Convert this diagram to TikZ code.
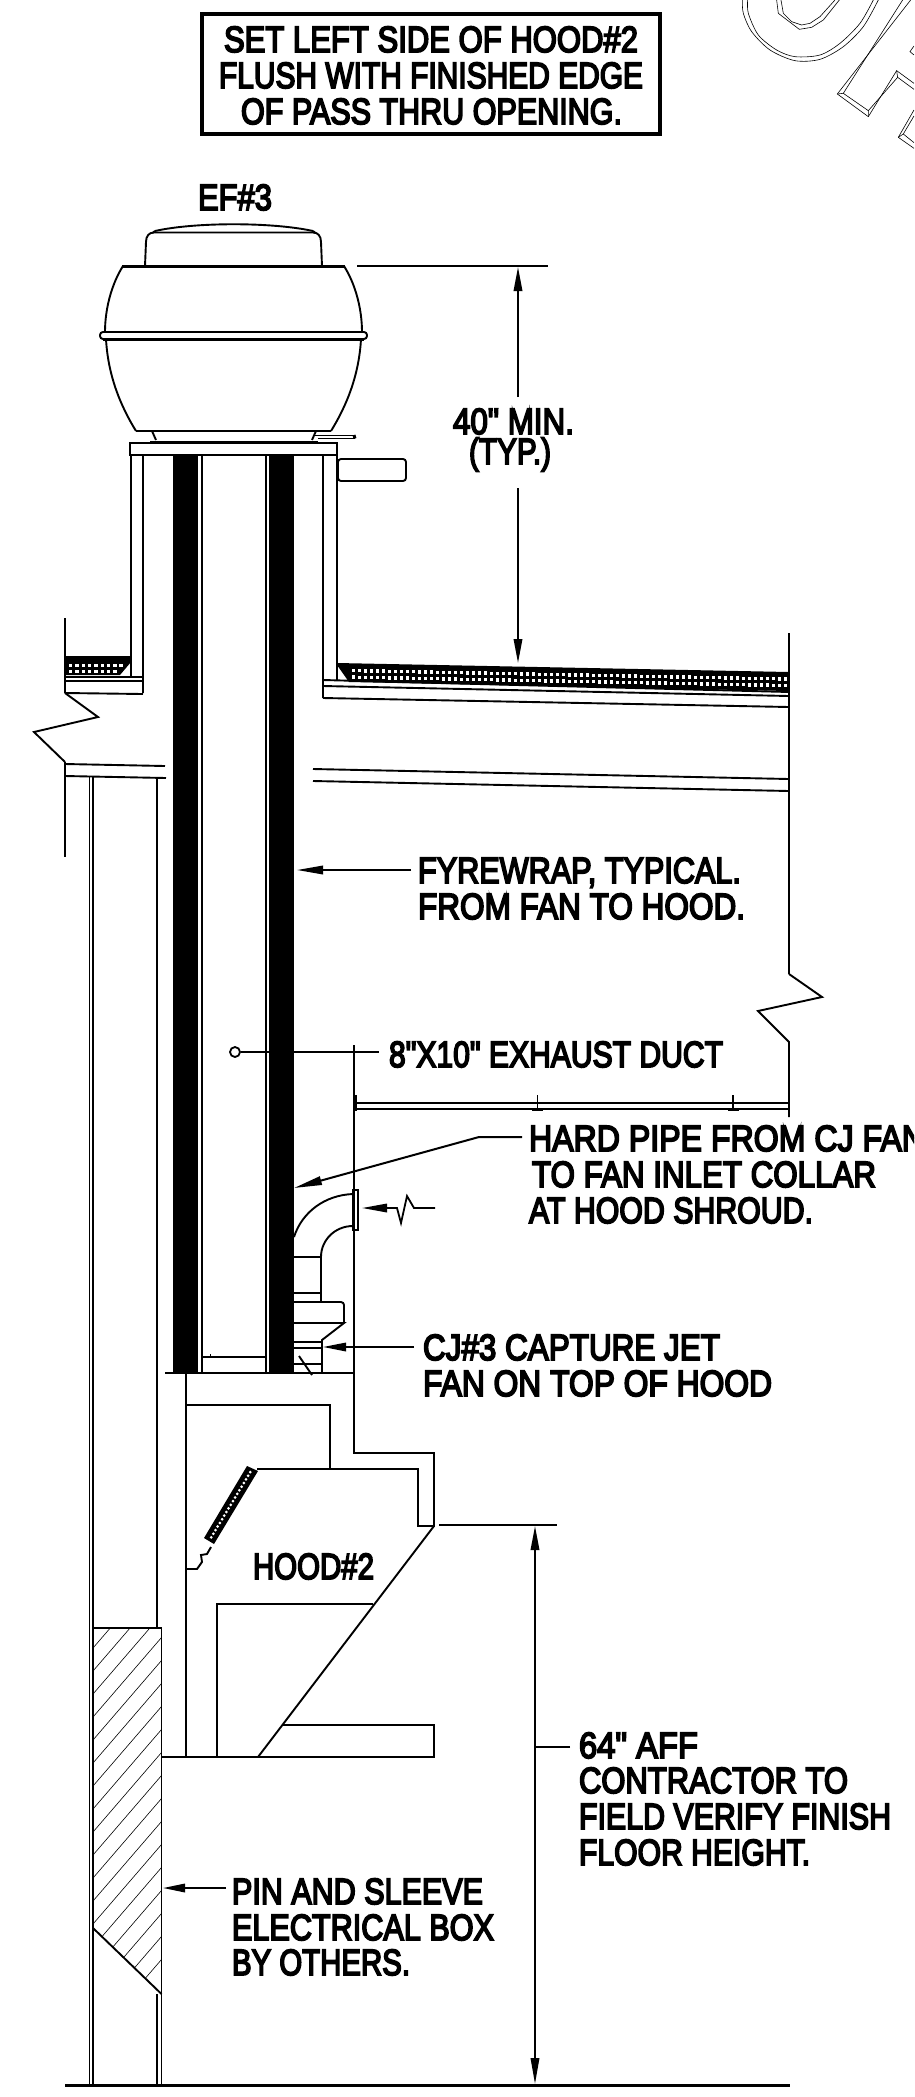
\documentclass[tikz,border=0pt]{standalone}
\usepackage{fontspec}
\usepackage{graphicx}
\setmainfont[FakeBold=5,Ligatures=TeXOff]{Liberation Sans}
\usetikzlibrary{arrows.meta,calc}
\tikzset{
  base/.style={line width=1.9pt,line join=miter,black},
  heavy/.style={line width=3pt,black},
  fine/.style={line width=0.9pt,black},
  wm/.style={line width=0.6pt,black},
  hatchline/.style={line width=0.6pt,black},
  lbl/.style={inner sep=0pt,outer sep=0pt,anchor=base west,font=\fontsize{36.5}{36.5}\selectfont},
  lead/.style={line width=1.8pt,black},
  tip/.style={-{Triangle[length=#1,width=8.5pt]}},
  tip/.default=24pt,
}
\newcommand{\lab}[5]{\node[lbl] (#1) at (#2,#3) {\resizebox{#4pt}{\height}{#5}};}
\begin{document}
\begin{tikzpicture}[x=1pt,y=-1pt]
\useasboundingbox (0,0) rectangle (914,2097);
\clip (0,0) rectangle (914,2097);
% watermark
\begin{scope}[shift={(680,0)},x=0.3333pt,y=-0.3333pt,wm]
\draw plot[smooth] coordinates {(187,0)(190,40)(215,95)(270,150)(345,182)(420,178)(490,140)(550,80)(595,0)};
\draw plot[smooth] coordinates {(203,0)(205,40)(235,105)(290,150)(345,170)(420,165)(480,130)(540,70)(580,0)};
\draw (290,0)--(295,40)--(358,88)--(395,82)--(430,60)--(478,0);
\draw (303,0)--(310,40)--(335,65)--(365,75)--(390,70)--(420,50)--(465,0);
\draw (692,0)--(472,282)--(565,350)--(650,212)--(702,250);
\draw (668,0)--(490,280)--(565,332)--(653,232)--(702,268);
\draw (472,282)--(490,280) (565,350)--(565,332) (650,212)--(653,232);
\draw (702,330)--(655,412)--(702,445);
\draw (702,348)--(670,402)--(702,428) (655,412)--(670,402);
\draw (702,138)--(690,155)--(702,165);
\end{scope}
% note box
\draw[heavy,line width=3.6pt] (202,14) rectangle (660,134);
\lab{noteA}{224}{52}{414}{SET LEFT SIDE OF HOOD\#2}
\lab{noteB}{219}{88}{424}{FLUSH WITH FINISHED EDGE}
\lab{noteC}{241}{124}{381}{OF PASS THRU OPENING.}
\lab{ef}{198}{210}{74}{EF\#3}
% fan
\draw[base] (155,231) .. controls (195,222) and (272,222) .. (313,231);
\draw[base] (155,231)--(153,232.5) (313,231)--(315,232.5);
\draw[base] (145,266) -- (146,242) .. controls (146,236) and (149,232.5) .. (154,232.5) -- (313,232.5) .. controls (318,232.5) and (321,236) .. (321,242) -- (322,266);
\draw[heavy] (122,266)--(345,266);
\draw[base] (123,266) .. controls (111,285) and (105,310) .. (105,332);
\draw[base] (344,266) .. controls (356,285) and (362,310) .. (362,332);
\draw[base,rounded corners=3pt] (100,332) rectangle (367,339);
\draw[heavy] (103,339)--(364,339);
\draw[base] (106,339) .. controls (108,375) and (120,405) .. (136,431);
\draw[base] (361,339) .. controls (359,375) and (347,405) .. (331,431);
\draw[base] (136,431)--(331,431);
\draw[base] (152,431)--(156,440) (316,431)--(312,440);
\draw[base] (150,442)--(318,442);
\draw[fine] (314,435)--(355,435) (318,438)--(355,438);
\draw[heavy] (354,435)--(355,438.5);
% curb
\draw[base] (130,443) rectangle (337,455);
\draw[base] (131,455)--(131,677) (143,455)--(143,693) (323,455)--(323,698) (337,455)--(337,680);
\draw[base,rounded corners=3pt] (338,459) rectangle (406,481);
% duct
\fill[black] (173,455) rectangle (198,1373);
\fill[black] (269,455) rectangle (294,1373);
\draw[base] (202,455)--(202,1373) (266,455)--(266,1373);
% left roof
\draw[base,line width=1.4pt] (65,618)--(65,693);
\fill[black] (65,656)--(131,656)--(131,662)--(120,675)--(65,675)--cycle;
\foreach \xx in {69,75.3,...,125} {\fill[white] (\xx,663.5) rectangle +(3.4,3.4);}
\foreach \xx in {69,75.3,...,118} {\fill[white] (\xx,670) rectangle +(3.4,3.4);}
\draw[base] (65,677)--(143,677);
\draw[base] (65,681)--(143,681);
\draw[base] (65,693)--(143,694);
\draw[base] (65,693)--(98,717)--(34,732)--(65,762);
\draw[base] (65,764)--(165,766);
\draw[base] (65,776)--(166,778);
\draw[base] (65,762)--(65,857);
% right roof
\draw[base,line width=1.4pt] (789,633)--(789,974);
\fill[black] (337,663)--(789,672)--(789,691)--(349,682)--(337,665)--cycle;
\foreach \xx in {352,358,...,786} {
  \pgfmathsetmacro{\yA}{668.6+(\xx-337)*0.0195}
  \pgfmathsetmacro{\yB}{675.1+(\xx-337)*0.0195}
  \fill[white] (\xx,\yA) rectangle +(3.4,3.4);
  \fill[white] (\xx,\yB) rectangle +(3.4,3.4);
}
\draw[base] (323,680)--(789,692);
\draw[base] (323,686)--(789,696);
\draw[base] (323,698)--(789,707);
\draw[base] (313,769)--(789,779);
\draw[base] (313,781)--(789,791);
% right wall + zigzag
\draw[base] (789,974)--(822,997)--(758,1011)--(789,1042)--(789,1117);
% ceiling
\draw[base] (355,1103)--(789,1103);
\draw[base] (355,1109)--(789,1109);
\draw[heavy] (355.5,1095)--(355.5,1111);
\draw[base] (537.5,1095)--(537.5,1108) (733,1095)--(733,1108);
\draw[heavy] (532,1109)--(543,1109) (728,1109)--(739,1109);
% wall lines lower
\draw[base] (89.5,777)--(89.5,2085) (93,777)--(93,2085);
\draw[base] (157,777)--(157,1628) (157,1994)--(157,2085);
\draw[base] (161.5,1628)--(161.5,2085);
% hatched block
\begin{scope}
\clip (93,1628)--(161.5,1628)--(161.5,1994)--(93,1928)--cycle;
\foreach \c in {1648,1671,...,2060} {\draw[hatchline] (93,\c)--(161.5,\c-79.5);}
\end{scope}
\draw[base] (93,1628)--(161.5,1628);
\draw[base] (93,1928)--(161.5,1994);
\draw[heavy] (65,2085)--(790,2085);
% hood
\draw[base] (165,1373)--(354,1373);
\draw[base] (186,1373)--(186,1757);
\draw[base] (186,1405)--(330,1405)--(330,1469);
\draw[base] (257,1469)--(418,1469)--(418,1526)--(434,1526)--(434,1453)--(354,1453)--(354,1045);
\draw[base] (434,1526)--(258,1757);
\draw[base] (217,1757)--(217,1604)--(373,1604);
\draw[base] (161.5,1757)--(434,1757)--(434,1725)--(281.5,1725);
\fill[black] (247,1466)--(258,1471)--(214,1544)--(204,1538)--cycle;
\foreach \t in {0.05,0.1,...,0.96} {
  \fill[white] ($(252.5,1468.5)!\t!(209,1541)$) circle (1.5pt);
}
\draw[base] (211,1547)--(207,1554)--(201,1555)--(202,1562)--(197,1569)--(186,1569);
\lab{hood}{253}{1579}{121}{HOOD\#2}
% elbow and CJ fan
\draw[base] (353,1194) .. controls (325,1195) and (302,1212) .. (294,1237);
\draw[base] (353,1226) .. controls (335,1226) and (321,1240) .. (321,1257);
\draw[base] (353,1190) rectangle (358,1230);
\draw[base] (294,1257)--(321,1257)--(321,1302);
\draw[base] (294,1293)--(321,1293);
\draw[base,rounded corners=3pt] (294,1302)--(344,1302)--(344,1323);
\draw[base] (294,1323)--(344,1323)--(322,1340)--(322,1373);
\draw[base] (294,1342)--(322,1342);
\draw[base] (294,1348)--(322,1348);
\draw[base] (294,1364)--(322,1364);
\draw[base] (299,1356)--(312,1375);
\draw[base] (202,1357)--(266,1357);
\draw[fine] (210,1354)--(210,1357);
% labels
\lab{dimA}{453}{434}{121}{40" MIN.}
\lab{dimB}{469}{464}{82}{(TYP.)}
\lab{fyreA}{418}{883}{323}{FYREWRAP, TYPICAL.}
\lab{fyreB}{418}{919}{327}{FROM FAN TO HOOD.}
\lab{duct}{389}{1067}{334}{8"X10" EXHAUST DUCT}
\lab{pipeA}{529}{1151}{396}{HARD PIPE FROM CJ FAN}
\lab{pipeB}{532}{1187}{344}{TO FAN INLET COLLAR}
\lab{pipeC}{529}{1223}{284}{AT HOOD SHROUD.}
\lab{cjA}{423}{1360}{297}{CJ\#3 CAPTURE JET}
\lab{cjB}{423}{1396}{349}{FAN ON TOP OF HOOD}
\lab{affA}{579}{1758}{119}{64" AFF}
\lab{affB}{579}{1793}{269}{CONTRACTOR TO}
\lab{affC}{579}{1829}{312}{FIELD VERIFY FINISH}
\lab{affD}{579}{1865}{231}{FLOOR HEIGHT.}
\lab{pinA}{232}{1904}{251}{PIN AND SLEEVE}
\lab{pinB}{232}{1940}{262}{ELECTRICAL BOX}
\lab{pinC}{232}{1975}{178}{BY OTHERS.}
% named points of connectors
\coordinate (ext40a) at (357,266);
\coordinate (ext40b) at (548,266);
\coordinate (d40top) at (518,267);
\coordinate (d40bot) at (518,663);
\coordinate (d40gapA) at (518,397);
\coordinate (d40gapB) at (518,488);
\coordinate (fyreTip) at (297,870);
\coordinate (pipeTip) at (294,1188);
\coordinate (pipeKnee) at (479,1137);
\coordinate (cjTip) at (323,1347);
\coordinate (ductDot) at (235,1052);
\coordinate (breakTip) at (362,1208);
\coordinate (ext64a) at (439,1525);
\coordinate (ext64b) at (557,1525);
\coordinate (d64top) at (535,1526);
\coordinate (d64bot) at (535,2084);
\coordinate (pinTip) at (163,1888);
% connectors
\draw[heavy,line width=2.2pt] (ext40a)--(ext40b);
\draw[lead,tip=24pt] (d40gapA) -- (d40top);
\draw[lead,tip=24pt] (d40gapB) -- (d40bot);
\draw[lead,tip=26pt] ([shift={(-7pt,13pt)}]fyreA.base west) -- (fyreTip);
\draw[lead,tip=28pt,line width=2pt] ([shift={(-7pt,14pt)}]pipeA.base west) -- (pipeKnee) -- (pipeTip);
\draw[lead,tip=23pt] ([shift={(-9pt,13pt)}]cjA.base west) -- (cjTip);
\draw[lead] (ductDot) circle (5pt);
\draw[lead] ([xshift=6pt]ductDot) -- ([shift={(-10pt,15pt)}]duct.base west);
\draw[lead,tip=25pt] (435,1208)--(414,1208)--(407,1196)--(401,1223)--(397,1208)-- (breakTip);
\draw[heavy,line width=2.2pt] (ext64a)--(ext64b);
\draw[lead,{Triangle[length=24pt,width=8.5pt]}-{Triangle[length=26pt,width=8.5pt]}] (d64top)--(d64bot);
\draw[lead] ([shift={(-9pt,11pt)}]affA.base west) -- ([shift={(-44pt,11pt)}]affA.base west);
\draw[lead,tip=22pt] ([shift={(-6pt,16pt)}]pinA.base west) -- (pinTip);
\end{tikzpicture}
\end{document}
